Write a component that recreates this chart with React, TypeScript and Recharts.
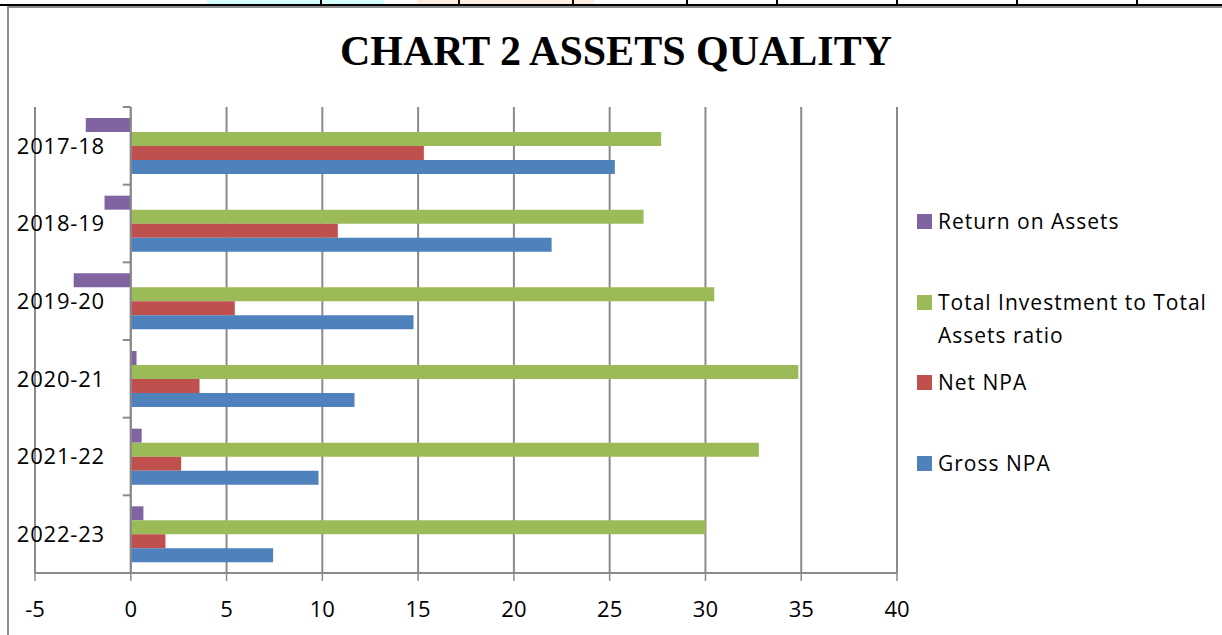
import { BarChart, Bar, XAxis, YAxis, CartesianGrid, ReferenceLine, Legend } from 'recharts'

// Values
const years = ['2017-18', '2018-19', '2019-20', '2020-21', '2021-22', '2022-23']
const returnOnAssets = [-2.35, -1.37, -2.98, 0.3, 0.57, 0.66]
const investmentRatio = [27.69, 26.77, 30.46, 34.85, 32.79, 30.01]
const netNpa = [15.3, 10.81, 5.43, 3.59, 2.63, 1.81]
const grossNpa = [25.27, 21.97, 14.76, 11.68, 9.8, 7.43]
const xTicks = [-5, 0, 5, 10, 15, 20, 25, 30, 35, 40]
const seriesNames = ['Return on Assets', 'Total Investment to Total Assets ratio', 'Net NPA', 'Gross NPA']

const data = years.map((year, i) => ({
  year,
  roa: returnOnAssets[i],
  investment: investmentRatio[i],
  net: netNpa[i],
  gross: grossNpa[i],
}))

const W = 1222
const H = 635
const PLOT_LEFT = 35
const PLOT_RIGHT = 897
const PLOT_TOP = 107
const PLOT_BOTTOM = 573
const X_MIN = -5
const X_MAX = 40
const ZERO_X = PLOT_LEFT + ((0 - X_MIN) / (X_MAX - X_MIN)) * (PLOT_RIGHT - PLOT_LEFT)
const BAND = (PLOT_BOTTOM - PLOT_TOP) / years.length
const LABEL_RIGHT = 105
const GRID = '#8a8a8a'
const FONT = '"Open Sans", sans-serif'

function CategoryTick(props: any) {
  const { y, payload } = props
  return (
    <g>
      <text
        x={LABEL_RIGHT}
        y={y}
        dy="0.36em"
        textAnchor="end"
        fill="#000"
        style={{ fontFamily: FONT, fontSize: 22, letterSpacing: 0.8 }}
      >
        {payload.value}
      </text>
      <line x1={ZERO_X - 8} x2={ZERO_X} y1={y - BAND / 2} y2={y - BAND / 2} stroke={GRID} strokeWidth={2} />
    </g>
  )
}

function renderLegend(props: any) {
  const items = [...props.payload].sort(
    (a: any, b: any) => seriesNames.indexOf(a.value) - seriesNames.indexOf(b.value),
  )
  return (
    <div style={{ fontFamily: FONT, fontSize: 21, letterSpacing: 1, color: '#000' }}>
      {items.map((entry: any) => (
        <div key={entry.value} style={{ height: 80.7, display: 'flex', alignItems: 'flex-start' }}>
          <span
            style={{ width: 15, height: 15, background: entry.color, marginTop: 9, marginRight: 6, flex: 'none' }}
          />
          <span style={{ lineHeight: '33px', width: 284 }}>{entry.value}</span>
        </div>
      ))}
    </div>
  )
}

export default function App() {
  return (
    <div style={{ position: 'absolute', left: 0, top: 0, width: W, height: H, background: '#fff', overflow: 'hidden' }}>
      {/* page decoration: table border above the chart */}
      <div style={{ position: 'absolute', left: 207, top: 0, width: 177, height: 4, background: '#d4fdfd' }} />
      <div style={{ position: 'absolute', left: 417, top: 0, width: 177, height: 4, background: '#fdeedf' }} />
      {[320, 458, 572, 686, 776, 896, 1016, 1136].map(x => (
        <div key={x} style={{ position: 'absolute', left: x, top: 0, width: 2, height: 5, background: '#000' }} />
      ))}
      <div style={{ position: 'absolute', left: 0, top: 4, width: W, height: 2, background: '#000' }} />
      <div style={{ position: 'absolute', left: 7, top: 6, width: W - 7, height: 2, background: '#8c8c8c' }} />
      <div style={{ position: 'absolute', left: 7, top: 6, width: 2, height: H - 6, background: '#8c8c8c' }} />

      <div
        style={{
          position: 'absolute',
          left: 10,
          top: 30,
          width: W - 10,
          textAlign: 'center',
          fontFamily: '"Liberation Serif", "Times New Roman", serif',
          fontWeight: 'bold',
          fontSize: 42,
          lineHeight: '42px',
          color: '#000',
        }}
      >
        CHART 2 ASSETS QUALITY
      </div>

      <div style={{ position: 'absolute', left: 0, top: 0 }}>
        <BarChart
          width={W}
          height={H}
          data={data}
          layout="vertical"
          margin={{ top: PLOT_TOP, right: W - PLOT_RIGHT, left: 0, bottom: 0 }}
          barSize={14}
          barGap={0}
        >
          <CartesianGrid horizontal={false} stroke={GRID} strokeWidth={2} />
          <XAxis
            type="number"
            domain={[X_MIN, X_MAX]}
            ticks={xTicks}
            interval={0}
            height={H - PLOT_BOTTOM}
            axisLine={{ stroke: GRID, strokeWidth: 2 }}
            tickLine={{ stroke: GRID, strokeWidth: 1.5 }}
            tickSize={8}
            tickMargin={20}
            tick={{ fill: '#000', fontSize: 22, fontFamily: FONT }}
          />
          <YAxis
            type="category"
            dataKey="year"
            width={PLOT_LEFT}
            axisLine={false}
            tickLine={false}
            tick={<CategoryTick />}
            interval={0}
          />
          <ReferenceLine x={0} stroke={GRID} strokeWidth={2} />
          <Legend
            layout="vertical"
            align="center"
            verticalAlign="middle"
            content={renderLegend}
            wrapperStyle={{ left: 917, top: 205, width: 305, height: 'auto' }}
          />
          <Bar dataKey="roa" name={seriesNames[0]} fill="#8064A2" isAnimationActive={false} />
          <Bar dataKey="investment" name={seriesNames[1]} fill="#9BBB59" isAnimationActive={false} />
          <Bar dataKey="net" name={seriesNames[2]} fill="#C0504D" isAnimationActive={false} />
          <Bar dataKey="gross" name={seriesNames[3]} fill="#4F81BD" isAnimationActive={false} />
        </BarChart>
      </div>
    </div>
  )
}
